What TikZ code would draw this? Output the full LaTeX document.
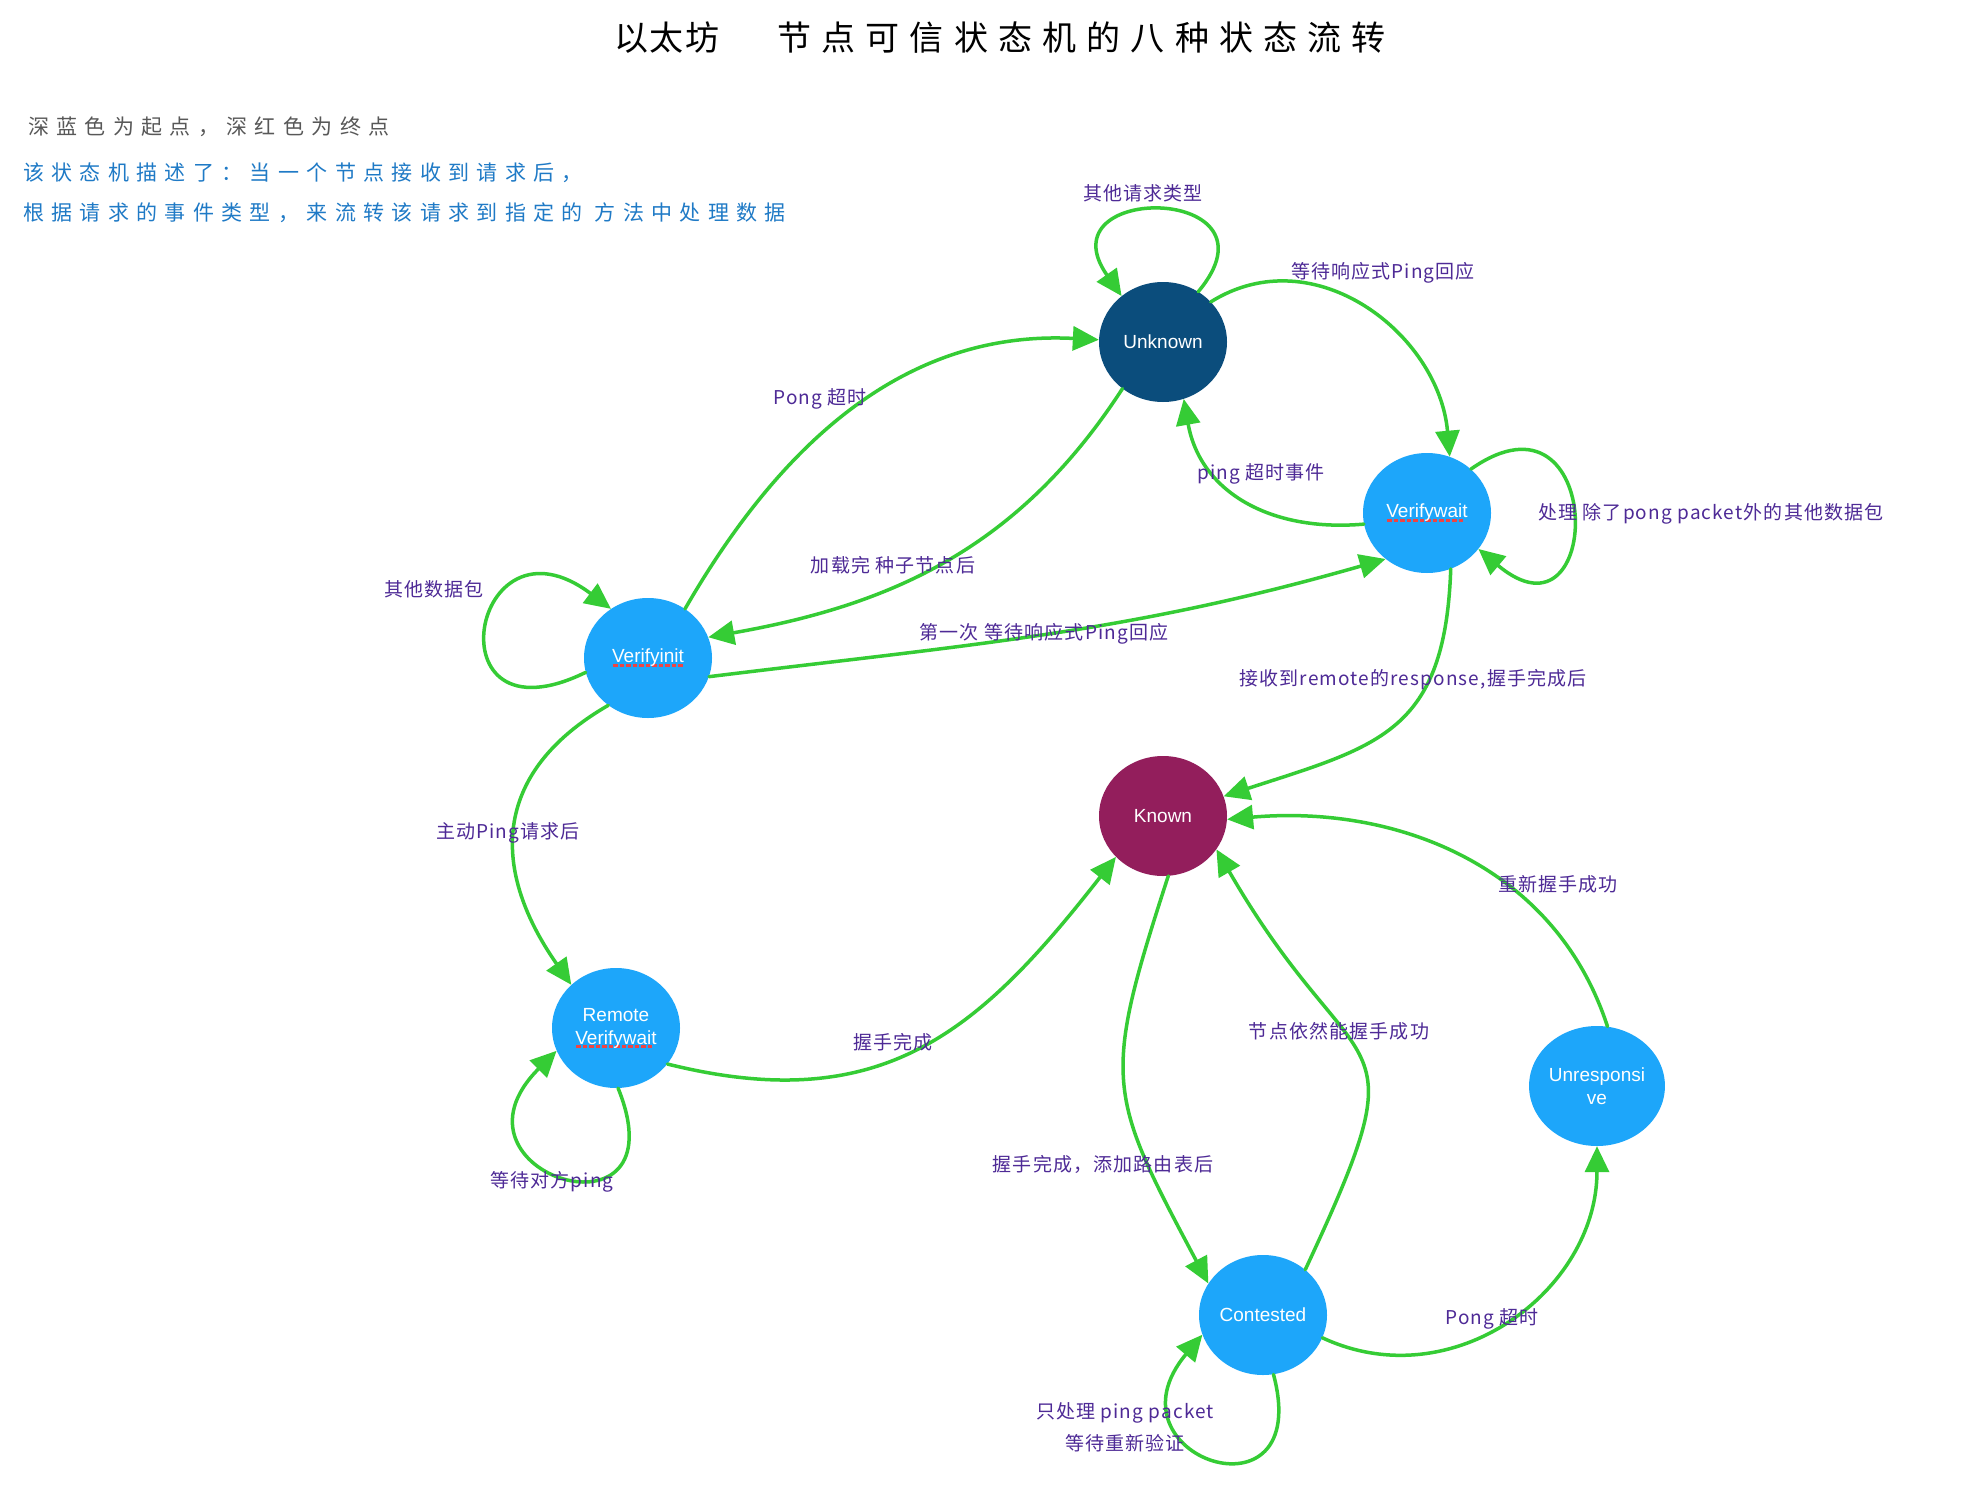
\documentclass[tikz,border=0pt]{standalone}
\usepackage{fontspec}
\setmainfont{Liberation Sans}
\newfontfamily\cjklbl[LetterSpace=6]{Noto Sans CJK SC}
\newfontfamily\cjktitle[LetterSpace=30]{Noto Sans CJK SC}
\newfontfamily\cjktitletight[LetterSpace=5]{Noto Sans CJK SC}
\newfontfamily\cjknote[LetterSpace=35]{Noto Sans CJK SC}
\usetikzlibrary{arrows.meta,shapes.geometric}
\definecolor{nodedark}{HTML}{0B4D7C}
\definecolor{nodelight}{HTML}{1DA6FA}
\definecolor{nodeknown}{HTML}{931E5C}
\definecolor{flowgreen}{HTML}{35CC35}
\definecolor{lblpurple}{HTML}{4E2A96}
\definecolor{notegray}{HTML}{585858}
\definecolor{noteblue}{HTML}{1F7AC6}
\definecolor{ulred}{HTML}{EE4444}
\newcommand\spellul[1]{\setbox0=\hbox{#1}\rlap{\color{ulred}\raisebox{-4pt}{\leaders\hbox to 6.5pt{\hss\vrule width 4.5pt height 3pt depth 0pt\hss}\hskip\wd0}}\box0}
\begin{document}
\begin{tikzpicture}[x=1pt,y=1pt,
  fsm/.style={ellipse, minimum width=128pt, minimum height=120pt, inner sep=0pt,
    text=white, font=\fontsize{19}{23}\selectfont, align=center},
  trans/.style={draw=flowgreen, line width=3.5pt, line cap=round,
    -{Triangle[length=26pt,width=24pt]}},
  lbl/.style={text=lblpurple, font=\cjklbl\fontsize{19}{32}\selectfont, inner sep=0pt, align=center}]
\useasboundingbox (0,0) rectangle (1966,-1488);
\fill[white] (0,0) rectangle (1966,-1488);

% title and notes
\node[text=black, inner sep=0pt] (title) at (1000,-38)
  {{\cjktitletight\fontsize{34}{40}\selectfont 以太坊}\hspace{58pt}{\cjktitle\fontsize{34}{40}\selectfont 节点可信状态机的八种状态流转}};
\node[anchor=west, font=\cjknote\fontsize{21}{40}\selectfont, text=notegray, inner sep=0pt] (legend) at (28,-127)
  {深蓝色为起点，深红色为终点};
\node[anchor=west, font=\cjknote\fontsize{21}{40}\selectfont, text=noteblue, inner sep=0pt, align=left] (desc) at (23,-193)
  {该状态机描述了：当一个节点接收到请求后，\\根据请求的事件类型，来流转该请求到指定的 方法中处理数据};

% states
\node[fsm, fill=nodedark] (U) at (1163,-342) {Unknown};
\node[fsm, fill=nodelight] (VW) at (1427,-513) {\spellul{Verifywait}};
\node[fsm, fill=nodelight] (VI) at (648,-658) {\spellul{Verifyinit}};
\node[fsm, fill=nodeknown] (K) at (1163,-816) {Known};
\node[fsm, fill=nodelight] (RV) at (616,-1028) {Remote\\\spellul{Verifywait}};
\node[fsm, fill=nodelight] (UR) at (1597,-1086) {Unresponsi\\ve};
\node[fsm, fill=nodelight] (C) at (1263,-1315) {Contested};

% transitions
\draw[trans] (U.55) to[out=50,in=125,distance=140pt] (U.132);
\draw[trans] (U.40) to[out=32,in=95,looseness=1.1] (VW.68);
\draw[trans] (VW.190) to[out=185,in=-80,looseness=1.1] (U.-70);
\draw[trans] (VW.45) to[out=35,in=-40,distance=165pt] (VW.-35);
\draw[trans] (VI.53) to[out=60,in=177] (U.178);
\draw[trans] (U.-131) to[out=-123,in=10] (VI.19);
\draw[trans] (VI.-17) to[out=7,in=196] (VW.228);
\draw[trans] (VI.193) to[out=206,in=143,distance=175pt] (VI.127);
\draw[trans] (VI.230) to[out=210,in=125,looseness=1.25] (RV.136);
\draw[trans] (RV.-88) to[out=-68,in=225,distance=175pt] (RV.201);
\draw[trans] (RV.-35) to[out=-14,in=232,looseness=1.15] (K.221);
\draw[trans] (VW.-67) to[out=-92,in=18,looseness=1.3] (K.18);
\draw[trans] (UR.80) to[out=108,in=5] (K.-3);
\draw[trans] (K.-85) to[out=-108,in=118,looseness=1.35] (C.150);
\draw[trans] (C.47) to[out=65,in=-60,looseness=1.7] (K.-32);
\draw[trans] (C.-21) to[out=-25,in=-90,looseness=1.1] (UR.-90);
\draw[trans] (C.-80) to[out=-75,in=230,distance=160pt] (C.198);

% labels
\node[lbl] (l1) at (1143,-193) {其他请求类型};
\node[lbl] (l2) at (1383,-273) {等待响应式Ping回应};
\node[lbl] (l3) at (1261,-474) {ping 超时事件};
\node[lbl, anchor=west] (l4) at (1538,-514) {处理 除了pong packet外的其他数据包};
\node[lbl] (l5) at (820,-399) {Pong 超时};
\node[lbl] (l6) at (893,-565) {加载完 种子节点后};
\node[lbl] (l7) at (1044,-634) {第一次 等待响应式Ping回应};
\node[lbl] (l8) at (434,-589) {其他数据包};
\node[lbl] (l9) at (508,-833) {主动Ping请求后};
\node[lbl] (l10) at (552,-1182) {等待对方ping};
\node[lbl] (l11) at (893,-1042) {握手完成};
\node[lbl] (l12) at (1413,-680) {接收到remote的response,握手完成后};
\node[lbl] (l13) at (1558,-884) {重新握手成功};
\node[lbl] (l14) at (1103,-1164) {握手完成，添加路由表后};
\node[lbl] (l15) at (1339,-1031) {节点依然能握手成功};
\node[lbl] (l16) at (1492,-1319) {Pong 超时};
\node[lbl] (l17) at (1125,-1427) {只处理 ping packet\\等待重新验证};
\end{tikzpicture}
\end{document}
